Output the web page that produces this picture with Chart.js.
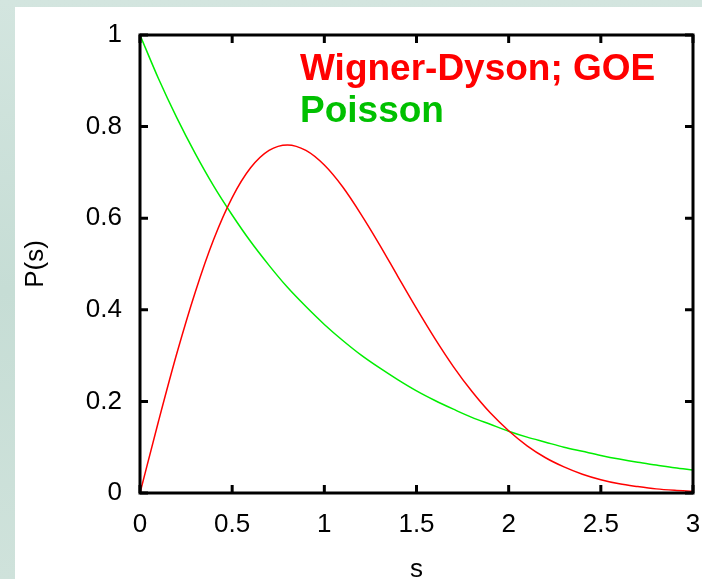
<!DOCTYPE html>
<html>
<head>
<meta charset="utf-8">
<script src="https://cdn.jsdelivr.net/npm/chart.js@4.4.1/dist/chart.umd.min.js"></script>
<style>
  html, body { margin: 0; padding: 0; }
  body {
    width: 702px; height: 579px; overflow: hidden; position: relative;
    background: linear-gradient(180deg, #d3e5df 0%, #c6ddd5 50%, #cfe2db 100%);
  }
  #panel { position: absolute; left: 15px; top: 7px; right: 0; bottom: 0; background: #fff; }
  #chart { position: absolute; left: 0; top: 0; }
</style>
</head>
<body>
<div id="panel"></div>
<canvas id="chart" width="702" height="579"></canvas>
<script>
// values
const sValues = [0, 0.1, 0.2, 0.3, 0.4, 0.5, 0.6, 0.7, 0.8, 0.9, 1.0,
  1.1, 1.2, 1.3, 1.4, 1.5, 1.6, 1.7, 1.8, 1.9, 2.0,
  2.1, 2.2, 2.3, 2.4, 2.5, 2.6, 2.7, 2.8, 2.9, 3.0];
const wignerValues = [0, 0.156, 0.305, 0.439, 0.554, 0.645, 0.710, 0.748, 0.760, 0.748, 0.716,
  0.668, 0.608, 0.542, 0.472, 0.403, 0.337, 0.276, 0.222, 0.175, 0.136,
  0.103, 0.077, 0.057, 0.041, 0.029, 0.020, 0.014, 0.009, 0.006, 0.004];
const poissonValues = [1, 0.905, 0.819, 0.741, 0.670, 0.607, 0.549, 0.497, 0.449, 0.407, 0.368,
  0.333, 0.301, 0.273, 0.247, 0.223, 0.202, 0.183, 0.165, 0.150, 0.135,
  0.122, 0.111, 0.100, 0.091, 0.082, 0.074, 0.067, 0.061, 0.055, 0.050];
const seriesNames = ['Wigner-Dyson; GOE', 'Poisson'];
const xTicks = [0, 0.5, 1, 1.5, 2, 2.5, 3];
const yTicks = [0, 0.2, 0.4, 0.6, 0.8, 1];

const toPoints = (vals) => vals.map((v, i) => ({x: sValues[i], y: v}));

// gnuplot-style box with inward ticks on all sides, plus the key
const frame = {
  id: 'frame',
  afterDatasetsDraw(chart) {
    const {ctx, chartArea: a, scales: {x, y}} = chart;
    ctx.save();
    ctx.strokeStyle = '#000';
    ctx.lineWidth = 3;
    ctx.strokeRect(a.left, a.top, a.right - a.left, a.bottom - a.top);
    ctx.beginPath();
    xTicks.forEach(v => {
      const px = x.getPixelForValue(v);
      ctx.moveTo(px, a.bottom); ctx.lineTo(px, a.bottom - 8);
      ctx.moveTo(px, a.top); ctx.lineTo(px, a.top + 8);
    });
    yTicks.forEach(v => {
      const py = y.getPixelForValue(v);
      ctx.moveTo(a.left, py); ctx.lineTo(a.left + 8, py);
      ctx.moveTo(a.right, py); ctx.lineTo(a.right - 8, py);
    });
    ctx.stroke();

    ctx.font = 'bold 37px "Liberation Sans", Arial, sans-serif';
    ctx.textBaseline = 'alphabetic';
    ctx.fillStyle = '#ff0000';
    ctx.fillText(seriesNames[0], 300, 80);
    ctx.fillStyle = '#00c000';
    ctx.fillText(seriesNames[1], 300, 122);
    ctx.restore();
  }
};

const tickFont = {family: '"Liberation Sans", Arial, sans-serif', size: 26};
const noOverhang = s => { s.paddingLeft = 0; s.paddingRight = 0; s.paddingTop = 0; s.paddingBottom = 0; };

new Chart(document.getElementById('chart'), {
  type: 'scatter',
  data: {
    datasets: [{
      label: seriesNames[0],
      data: toPoints(wignerValues),
      showLine: true,
      borderColor: '#ff0000',
      borderWidth: 1.5,
      pointRadius: 0,
      cubicInterpolationMode: 'monotone'
    }, {
      label: seriesNames[1],
      data: toPoints(poissonValues),
      showLine: true,
      borderColor: '#00ee00',
      borderWidth: 1.5,
      pointRadius: 0,
      cubicInterpolationMode: 'monotone'
    }]
  },
  options: {
    responsive: false,
    animation: false,
    layout: {padding: {left: 0, top: 35, right: 9, bottom: 0}},
    plugins: {legend: {display: false}, tooltip: {enabled: false}},
    scales: {
      x: {
        type: 'linear', min: 0, max: 3,
        afterBuildTicks: s => { s.ticks = xTicks.map(v => ({value: v})); },
        afterFit: s => { s.height = 86; noOverhang(s); },
        grid: {display: false, drawTicks: false},
        border: {display: false},
        ticks: {font: tickFont, color: '#000', padding: 16, maxRotation: 0, callback: v => String(v)},
        title: {display: true, text: 's', font: tickFont, color: '#000', padding: {top: 0, bottom: -6}}
      },
      y: {
        type: 'linear', min: 0, max: 1,
        afterBuildTicks: s => { s.ticks = yTicks.map(v => ({value: v})); },
        afterFit: s => { s.width = 140; noOverhang(s); },
        grid: {display: false, drawTicks: false},
        border: {display: false},
        ticks: {font: tickFont, color: '#000', padding: 18, callback: v => String(v)},
        title: {display: true, text: 'P(s)', font: tickFont, color: '#000', padding: {top: 20, bottom: 0}}
      }
    }
  },
  plugins: [frame]
});
</script>
</body>
</html>
